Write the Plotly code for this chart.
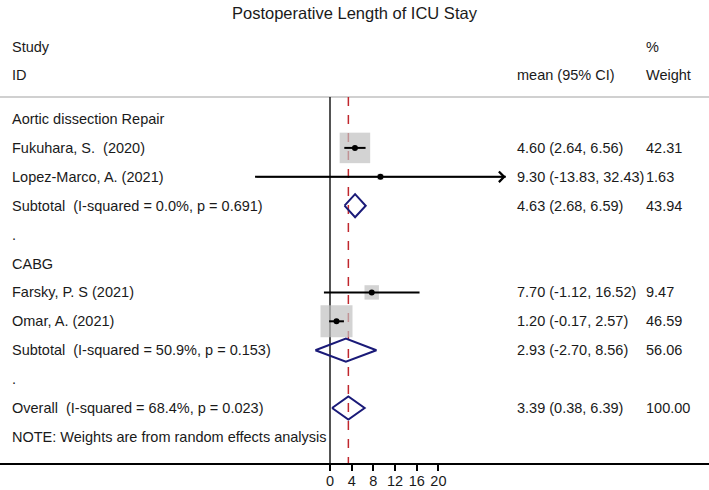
import plotly.graph_objects as go

# study level data
study_label = ["Fukuhara, S.  (2020)", "Lopez-Marco, A. (2021)", "Farsky, P. S (2021)", "Omar, A. (2021)"]
study_mean = [4.60, 9.30, 7.70, 1.20]
study_lo = [2.64, -13.83, -1.12, -0.17]
study_hi = [6.56, 32.43, 16.52, 2.57]
study_weight = [42.31, 1.63, 9.47, 46.59]
study_row = [1, 2, 6, 7]

# pooled estimates (subtotals + overall)
pooled_label = [
    "Subtotal  (I-squared = 0.0%, p = 0.691)",
    "Subtotal  (I-squared = 50.9%, p = 0.153)",
    "Overall  (I-squared = 68.4%, p = 0.023)",
]
pooled_mean = [4.63, 2.93, 3.39]
pooled_lo = [2.68, -2.70, 0.38]
pooled_hi = [6.59, 8.56, 6.39]
pooled_weight = [43.94, 56.06, 100.00]
pooled_row = [3, 8, 10]

# plain text rows
other_label = ["Aortic dissection Repair", ".", "CABG", ".", "NOTE: Weights are from random effects analysis"]
other_row = [0, 4, 5, 9, 11]

x_ticks = [0, 4, 8, 12, 16, 20]

# layout helpers (pixel -> axis units)
W, H = 709, 490
AXIS_PX = 463
ZERO_PX, PX_PER_UNIT = 330, 5.42
ROW0_PX, ROW_STEP = 119, 28.9


def row_of(px):
    return (px - ROW0_PX) / ROW_STEP


FONT = "Liberation Sans, Arial, sans-serif"
TXT = "#1a1a1a"
FS = 14.5
NAVY = "#1a1a78"
RED = "#c0272d"
BOX_SCALE = 32 / (46.59 ** 0.5)
DIAMOND_H = 0.4

fig = go.Figure()

# weight boxes
fig.add_trace(go.Scatter(
    x=study_mean, y=study_row, mode="markers",
    marker=dict(symbol="square", color="#c0c0c0",
                size=[BOX_SCALE * w ** 0.5 for w in study_weight], line_width=0),
    hoverinfo="skip", showlegend=False,
))

# confidence intervals
ci_x, ci_y = [], []
for m_lo, m_hi, r in zip(study_lo, study_hi, study_row):
    ci_x += [m_lo, m_hi, None]
    ci_y += [r, r, None]
fig.add_trace(go.Scatter(x=ci_x, y=ci_y, mode="lines", line=dict(color="black", width=2),
                         hoverinfo="skip", showlegend=False))

# point estimates
fig.add_trace(go.Scatter(x=study_mean, y=study_row, mode="markers",
                         marker=dict(color="black", size=6), hoverinfo="skip", showlegend=False))

# arrows where the CI runs past the labelled range
for m_lo, m_hi, r in zip(study_lo, study_hi, study_row):
    if m_hi > max(x_ticks):
        fig.add_annotation(x=m_hi, y=r, ax=m_lo, ay=r, axref="x", ayref="y", xref="x", yref="y",
                           text="", showarrow=True, arrowhead=4, arrowsize=1.35,
                           arrowwidth=1.5, arrowcolor="black", standoff=0)

# pooled diamonds
dx, dy = [], []
for m, lo, hi, r in zip(pooled_mean, pooled_lo, pooled_hi, pooled_row):
    dx += [lo, m, hi, m, lo, None]
    dy += [r, r - DIAMOND_H, r, r + DIAMOND_H, r, None]
fig.add_trace(go.Scatter(x=dx, y=dy, mode="lines", line=dict(color=NAVY, width=2),
                         hoverinfo="skip", showlegend=False))

top_row = row_of(97)
bottom_row = row_of(AXIS_PX)

# reference lines
fig.add_shape(type="line", xref="paper", x0=0, x1=1, yref="y", y0=top_row, y1=top_row,
              line=dict(color="#d0d0d0", width=2), layer="below")
fig.add_shape(type="line", xref="x", x0=0, x1=0, yref="y", y0=top_row, y1=bottom_row,
              line=dict(color="#1a1a1a", width=1.5), layer="below")
fig.add_shape(type="line", xref="x", x0=pooled_mean[-1], x1=pooled_mean[-1], yref="y",
              y0=top_row, y1=bottom_row, line=dict(color=RED, width=1.5, dash="dash"), layer="below")


def text(x, y, s, size=FS, anchor="left"):
    fig.add_annotation(x=x, y=y, xref="paper", yref="y", text=s, showarrow=False,
                       xanchor=anchor, yanchor="middle",
                       font=dict(family=FONT, size=size, color=TXT))


COL_LABEL, COL_EST, COL_WT = 10 / W, 515 / W, 644 / W

text(0.5, row_of(13), "Postoperative Length of ICU Stay", size=16.5, anchor="center")
text(COL_LABEL, row_of(47), "Study")
text(COL_LABEL, row_of(75), "ID")
text(COL_EST, row_of(75), "mean (95% CI)")
text(COL_WT, row_of(47), "%")
text(COL_WT, row_of(75), "Weight")

for s, r in zip(other_label, other_row):
    text(COL_LABEL, r, s)
for s, m, lo, hi, w, r in zip(study_label + pooled_label, study_mean + pooled_mean,
                              study_lo + pooled_lo, study_hi + pooled_hi,
                              study_weight + pooled_weight, study_row + pooled_row):
    text(COL_LABEL, r, s)
    text(COL_EST, r, f"{m:.2f} ({lo:.2f}, {hi:.2f})")
    text(COL_WT, r, f"{w:.2f}")

fig.update_layout(
    width=W, height=H,
    margin=dict(l=0, r=0, t=0, b=H - AXIS_PX),
    plot_bgcolor="white", paper_bgcolor="white",
    font=dict(family=FONT, size=FS, color=TXT),
    showlegend=False,
    xaxis=dict(range=[-ZERO_PX / PX_PER_UNIT, (W - ZERO_PX) / PX_PER_UNIT],
               tickvals=x_ticks, ticks="outside", ticklen=6, tickwidth=1.5, tickcolor="black",
               ticklabelstandoff=-2,
               showline=True, linecolor="black", linewidth=1.5, showgrid=False, zeroline=False,
               tickfont=dict(family=FONT, size=FS, color=TXT), fixedrange=True),
    yaxis=dict(range=[bottom_row, row_of(0)], visible=False, showgrid=False, zeroline=False,
               fixedrange=True),
)

# drop the default page margin so the figure sits at the window's top-left corner
fig.write_html("out.html", config={"displayModeBar": False},
               post_script="document.body.style.margin='0';document.body.style.overflow='hidden';")
